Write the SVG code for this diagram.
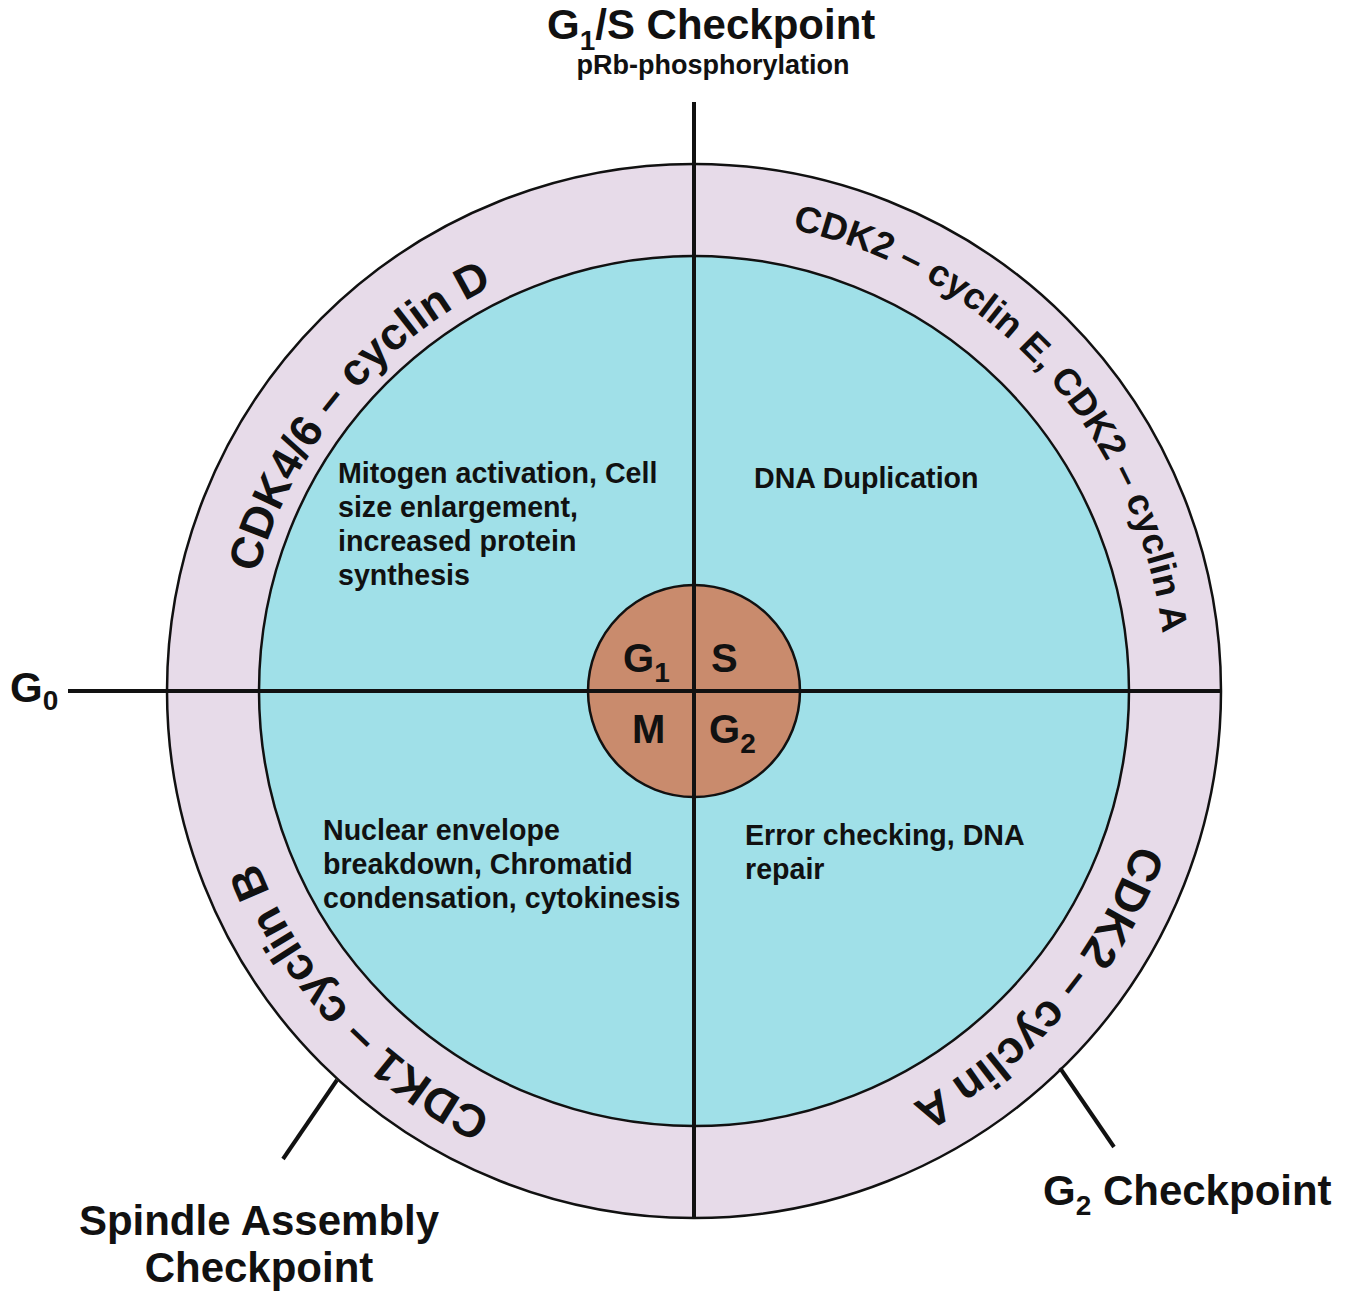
<svg xmlns="http://www.w3.org/2000/svg" width="1353" height="1292" viewBox="0 0 1353 1292">
<style>
text{font-family:"Liberation Sans",Arial,Helvetica,sans-serif;font-weight:bold;fill:#111}
.ring{fill:#e7dbe9;stroke:#111;stroke-width:2.5}
.inner{fill:#a0e0e8;stroke:#111;stroke-width:2.5}
.core{fill:#c98b6d;stroke:#111;stroke-width:2.5}
.ln{stroke:#111;stroke-width:4;fill:none}
.big{font-size:42px}
.sub{font-size:28px}
.q{font-size:28.6px}
.ctr{font-size:40px}
</style>
<defs>
<path id="p452" d="M242,691 A452,452 0 1 1 1146,691 A452,452 0 1 1 242,691"/>
<path id="p467" d="M227,691 A467,467 0 1 1 1161,691 A467,467 0 1 1 227,691"/>
<path id="p469" d="M225,691 A469,469 0 1 1 1163,691 A469,469 0 1 1 225,691"/>
<path id="p472" d="M222,691 A472,472 0 1 1 1166,691 A472,472 0 1 1 222,691"/>
</defs>
<rect width="1353" height="1292" fill="#fff"/>
<g id="outer-ring">
<circle class="ring" cx="694" cy="691" r="527"/>
</g>
<g id="phases">
<circle class="inner" cx="694" cy="691" r="435"/>
</g>
<g id="center">
<circle class="core" cx="694" cy="691" r="106"/>
</g>
<g id="connectors">
<line class="ln" x1="68" y1="691" x2="1221" y2="691"/>
<line class="ln" x1="694" y1="102" x2="694" y2="1218"/>
<line class="ln" x1="337" y1="1080" x2="283" y2="1159"/>
<line class="ln" x1="1060" y1="1068" x2="1114" y2="1147"/>
</g>
<g id="center-labels">
<text class="ctr" x="623" y="672">G<tspan class="sub" dy="10">1</tspan></text>
<text class="ctr" x="711" y="672">S</text>
<text class="ctr" x="632" y="743">M</text>
<text class="ctr" x="709" y="743">G<tspan class="sub" dy="10">2</tspan></text>
</g>
<g id="ring-labels">
<text style="font-size:45px" text-anchor="middle"><textPath href="#p452" startOffset="10.93%">CDK4/6 – cyclin D</textPath></text>
<text style="font-size:37px" text-anchor="middle"><textPath href="#p472" startOffset="38.2%">CDK2 – cyclin E, CDK2 – cyclin A</textPath></text>
<text style="font-size:46px" text-anchor="middle"><textPath href="#p467" startOffset="61.29%">CDK2 – cyclin A</textPath></text>
<text style="font-size:46px" text-anchor="middle"><textPath href="#p469" startOffset="88.08%">CDK1 – cyclin B</textPath></text>
</g>
<g id="g1-text">
<text class="q" x="338" y="483">Mitogen activation, Cell</text>
<text class="q" x="338" y="517">size enlargement,</text>
<text class="q" x="338" y="551">increased protein</text>
<text class="q" x="338" y="585">synthesis</text>
</g>
<g id="s-text">
<text class="q" x="754" y="488">DNA Duplication</text>
</g>
<g id="m-text">
<text class="q" x="323" y="840">Nuclear envelope</text>
<text class="q" x="323" y="874">breakdown, Chromatid</text>
<text class="q" x="323" y="908">condensation, cytokinesis</text>
</g>
<g id="g2-text">
<text class="q" x="745" y="845">Error checking, DNA</text>
<text class="q" x="745" y="879">repair</text>
</g>
<g id="g1s-checkpoint">
<text class="big" x="547" y="39">G<tspan class="sub" dy="11">1</tspan><tspan dy="-11">/S Checkpoint</tspan></text>
<text x="713" y="74" text-anchor="middle" style="font-size:27px">pRb-phosphorylation</text>
</g>
<g id="g0">
<text class="big" x="10" y="702">G<tspan class="sub" dy="8">0</tspan></text>
</g>
<g id="g2-checkpoint">
<text class="big" x="1043" y="1205">G<tspan class="sub" dy="10">2</tspan><tspan dy="-10"> Checkpoint</tspan></text>
</g>
<g id="spindle-checkpoint">
<text class="big" x="259" y="1235" text-anchor="middle">Spindle Assembly</text>
<text class="big" x="259" y="1282" text-anchor="middle">Checkpoint</text>
</g>
</svg>
